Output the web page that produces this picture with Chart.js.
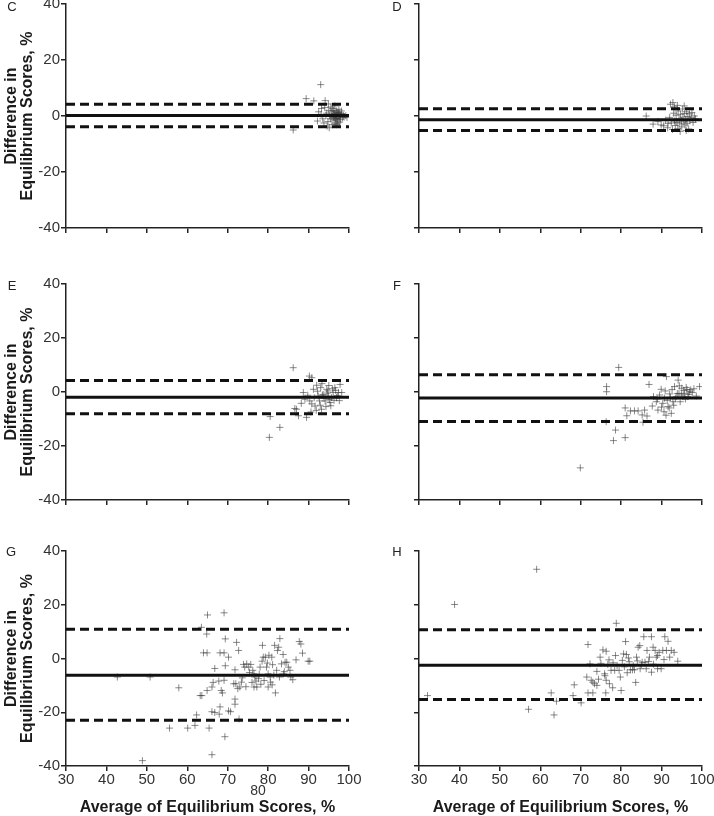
<!DOCTYPE html>
<html>
<head>
<meta charset="utf-8">
<script src="https://cdn.jsdelivr.net/npm/chart.js@4"></script>
<style>
  body { margin: 0; background: #fff; width: 714px; height: 816px; overflow: hidden; position: relative;
         font-family: "Liberation Sans", Arial, sans-serif; }
  canvas { position: absolute; }
  .tag { position: absolute; font-size: 13px; color: #222; line-height: 1; transform: translate(-50%, -50%); }
  .stray { position: absolute; font-size: 14px; color: #333; line-height: 1; transform: translate(-50%, -50%); }
</style>
</head>
<body>
<canvas id="panelC" width="380" height="248" style="left:0;top:-8px"></canvas>
<canvas id="panelD" width="360" height="248" style="left:360px;top:-8px"></canvas>
<canvas id="panelE" width="380" height="240" style="left:0;top:272px"></canvas>
<canvas id="panelF" width="360" height="240" style="left:360px;top:272px"></canvas>
<canvas id="panelG" width="380" height="279" style="left:0;top:539px"></canvas>
<canvas id="panelH" width="360" height="279" style="left:360px;top:539px"></canvas>

<div class="tag" style="left:12px;top:6px">C</div>
<div class="tag" style="left:397px;top:6px">D</div>
<div class="tag" style="left:12px;top:285px">E</div>
<div class="tag" style="left:397px;top:285px">F</div>
<div class="tag" style="left:11px;top:551px">G</div>
<div class="tag" style="left:397px;top:551px">H</div>
<div class="stray" style="left:258px;top:790px">80</div>

<script>
// =====================
// Data (average %, difference %)
// =====================
const xTicks = [30, 40, 50, 60, 70, 80, 90, 100];
const yTicks = [-40, -20, 0, 20, 40];

// [mean, upper limit, lower limit]
const statsC = [0.2, 4.2, -3.8];
const statsD = [-1.3, 2.6, -5.2];
const statsE = [-1.9, 4.3, -8.1];
const statsF = [-2.2, 6.4, -10.9];
const statsG = [-6.2, 10.9, -23.0];
const statsH = [-2.5, 10.7, -15.3];

const pointsC = [
  [93, 11.2], [89.4, 6.2], [91.3, 5.4], [94.1, 5.5], [86.2, -5], [93.2, 2.7], [92.5, 1.5], [93.5, -1],
  [94, 3], [94.5, 1], [94.8, -2], [95, 2], [95.2, 0], [95.4, -1], [95.6, 1.5], [95.8, -3], [96, 0.5],
  [96.1, -0.5], [96.2, 2], [96.3, -1.5], [96.4, 0], [96.5, 1], [96.6, -2.5], [96.7, 0.5], [96.8, -1],
  [96.9, 1.8], [97, 0], [97.1, -0.8], [97.2, 0.8], [97.3, -1.8], [97.4, 0.3], [97.5, 1.2], [97.6, -0.3],
  [97.7, -2.2], [97.8, 0.6], [97.9, -1.2], [98, 0], [98.2, 0.9], [98.4, -0.6], [98.6, 0.2], [98.8, -0.4],
  [99.2, 0.1], [95.5, 3.2], [94.6, -3.6], [95.1, -4.2], [96.5, 3.6], [97.5, 2.4], [94.3, 0.3], [95.9, 2.7],
  [96.9, -3.1], [97.2, -2.8], [98.1, 1.8], [93.8, -2.5], [94.9, 4.3], [99.5, -0.5], [92.2, -1.8], [93.1, 0.6],
  [96.3, 0.8], [96.8, -0.3], [97.1, 1.4], [97.7, 0.2], [96.6, -1.1], [95.7, -0.2]
];
const pointsD = [
  [86.2, 0], [87.9, -2.9], [89.1, -2], [89.9, -3.2], [91.6, -2.6], [92.8, 4.8], [93.2, 3.3], [92.2, 4.2],
  [90.5, -3.5], [91, -1.5], [91.5, -4.2], [92, -0.5], [92.4, -2.5], [92.7, -4.8], [93, 1], [93.2, -1.8],
  [93.4, -3.4], [93.6, 0.3], [93.8, -2.3], [94, -4.5], [94.1, 1.8], [94.3, -1], [94.5, -2.8], [94.7, 0.6],
  [94.9, -1.6], [95, -3.9], [95.2, 2.5], [95.3, -0.4], [95.5, -2.1], [95.7, 0.9], [95.8, -3.2], [96, -1.2],
  [96.2, 1.5], [96.3, -2.6], [96.5, -0.2], [96.7, -4.6], [96.9, 0.8], [97, -1.7], [97.3, -0.6], [97.5, 1.2],
  [97.8, -2.3], [98.1, 0], [98.4, -1], [93.9, 3.8], [95.6, 3.6], [94.6, -5.5], [96.1, -5.2]
];
const pointsE = [
  [80.3, -16.8], [80.5, -9.1], [82.9, -13.1], [86.2, 9], [86.6, -6.1], [87, -6.4], [87.5, -8.8], [88.7, -0.2],
  [89.1, -2.7], [89.5, -9.4], [90.2, 5.9], [90.3, -3.3], [90.8, 5.3], [91.2, 1], [91.6, -5.2], [92, 2.5],
  [92.4, -1.5], [92.7, -3.3], [93, 1.6], [93.2, -6.4], [93.6, -0.9], [94.1, -3.3], [94.5, 1], [94.9, -1.5],
  [95.3, -3.9], [95.7, -2.1], [96.1, -0.2], [96.5, 1.6], [96.9, -2.1], [97.4, -0.2], [97.8, 2.8], [98.2, -0.2],
  [90.8, -4.4], [91.4, -2.1], [91.9, -6.8], [92.2, 0.3], [92.9, -4.9], [93.3, 3.1], [93.8, -2.4], [94.3, -5.4],
  [94.6, -0.4], [95, 2.4], [95.1, -2.8], [95.5, -5.1], [95.9, 1.2], [96.3, -3.1], [96.7, 0.6], [97.1, -1.3],
  [97.6, -3.2], [93.4, -1.2], [94.8, 0.4], [89.8, -1.2], [88.2, -4.2], [90.6, -7.4]
];
const pointsF = [
  [69.9, -28.1], [76.4, 2], [76.4, 0.1], [79.4, 9.1], [76.3, -11], [78.6, -14.1], [78.1, -18], [81, -16.9],
  [81, -5.9], [81.4, -8.8], [82.3, -7], [83.3, -7], [84.2, -7], [85.2, -8.5], [85.8, -6.7], [86.4, -8.9],
  [85.4, -11.2], [86.9, 2.8], [87.7, -5.2], [88, -1.7], [88.7, -3.6], [89.1, -6.7], [89.5, -1.1], [89.9, 1],
  [90.3, -4.2], [90.7, -2.3], [91.2, 5.7], [91.6, -5.4], [92, -0.7], [92.4, -7.9], [92.8, -3.6], [93.2, 2],
  [93.6, -1.7], [94.1, 4.4], [94.3, -0.5], [94.6, -3.6], [95, 1.4], [95.3, -1.7], [95.7, -0.5], [96.1, 1.7],
  [96.5, -1.7], [96.9, 0.1], [98.6, -1.5], [99.4, 2],
  [89, -2.6], [90, -5.6], [90.9, 0.4], [91.4, -3.1], [91.9, -5.9], [92.6, 0.9], [93, -4.9], [93.4, -2.5],
  [93.9, -0.6], [94.4, 2.3], [94.9, -1.1], [95.5, 0.6], [95.9, -2.6], [96.3, 0.9], [96.7, -0.9], [97.2, 0.8],
  [97.6, -0.2], [98, 1.2], [92.2, -2], [90.6, -7.3], [91.1, -8.6]
];
const pointsG = [
  [42.7, -6.9], [50.8, -6.9], [57.9, -10.9], [48.9, -38], [55.6, -25.9], [60.1, -25.9], [61.9, -24.9],
  [62.3, -21], [63.2, -13.8], [63.6, -13.8], [63.5, 11.6], [64.8, 9.1], [65, 16.2], [64, 2.1], [64.9, 2.1],
  [64.9, -11.9], [66.1, -35.8], [65.4, -25.9], [66.1, -10.6], [66.8, -3.7], [66.4, -8.9], [66.1, -19.8],
  [66.8, -20.1], [67.9, -20.7], [68.1, -18], [67.8, -8.4], [68.1, 2.1], [68.4, -11.9], [68.7, -12.8],
  [69.1, 17], [69.4, 7.3], [69.1, 2.1], [69.4, -2.7], [70.2, 0.5], [69.1, -8.1], [69.3, -29.1], [70.2, -19.5],
  [70.7, -19.8], [71.5, -9.4], [71.8, -4.2], [72.2, 6], [72.7, 3], [71.8, -15.1], [71.8, -17], [72, -9.4],
  [72.5, -11.2], [73, -10.6], [73.4, -8.8], [73.6, -7.2], [73.9, -2.2], [74.2, -3.2], [74.7, -2], [75.2, -3.2],
  [75.7, -2.2], [76.2, -4.4], [76.5, -5.7], [76.7, -6.9], [77, -8.4], [77.2, -10.6], [76.5, -10.6], [77.6, -7.5],
  [78, -3.2], [78.5, -1], [78.8, 0.5], [78.6, 4.9], [79.3, 0.5], [79.6, -3.2], [80, -5.7], [80, -10.6],
  [80.5, -6.9], [80.6, -8.8], [80.9, 0.5], [81.1, -2.3], [81.6, 4.9], [81.8, -12.8], [82.1, -4.4], [82.3, 3],
  [82.6, 4.2], [82.9, 7.4], [83.3, -2], [83.8, -5.7], [84.2, -1.4], [84.6, -1.4], [85, -3.2], [85.4, -4.4],
  [85.6, -6.9], [86.1, -7.9], [86.9, -0.5], [87.7, 6.3], [88.1, 5.4], [88.5, 2], [89.9, -1], [90.3, -1],
  [72.8, -22.5], [74.5, -10.5], [75.4, -5.2], [77.8, -5.9], [79, -8.2], [81.4, -6.2], [82.8, -6.9], [84, -4.9],
  [78.2, -9.6], [80.2, 1.2], [79.8, -1.7], [76, -8.9], [83.7, 1.5], [81, -9.8]
];
const pointsH = [
  [32.1, -13.8], [38.8, 20.1], [59.1, 33.2], [57.1, -18.9], [62.7, -12.8], [63.4, -21], [64, -15.9],
  [68.4, -9.8], [68.1, -13.8], [70.1, -16.5], [71.8, 5.2], [71.5, -6.9], [71.8, -12.8], [73, -12.8],
  [72.3, -2], [72.6, -8.1], [73, -8.8], [73.4, -9.4], [74, -10], [74.4, -7.7], [74.8, 0.5], [75.5, 3.2],
  [76.3, 2.7], [76.2, -12.8], [75.9, -5.7], [76.3, -8.1], [76.7, -2.2], [77.1, -9.4], [77.5, -4.4],
  [77.9, -10.9], [78.4, -4.4], [78.8, 13.1], [78.6, 1.1], [79, -2.6], [79.5, -4.4], [80, -11.9], [79.8, -6.9],
  [80.3, -0.7], [80.6, 1.7], [81.1, 6.3], [81.3, 1.5], [81.8, 0.2], [82.3, -4.2], [82.8, -4.2], [83.6, -8.9],
  [83.3, -4.2], [83.8, 0.5], [84.2, 4.2], [84.6, 4.8], [84.7, -3.8], [85.2, -1.4], [85.6, 8.1], [85.9, -1.4],
  [86.2, -3.8], [86.4, 3], [87, 0.5], [87.5, 8.1], [87.5, -5.1], [87.9, 4.2], [88.4, 3], [88.7, 0.5],
  [89, -3.8], [89.4, 2.3], [89.9, -3.8], [90.3, 3], [90.8, 8.1], [91.2, 3], [91.6, 6.4], [92, 0.5],
  [92.4, 3], [93.1, 2.3], [94, -1],
  [75, -1.8], [77, -0.5], [78, -1.6], [80.8, -3.1], [82, -1.2], [83, -2.7], [84, -0.9], [85, -2.3],
  [86.8, -1.1], [88, -2.1], [89, 1.1], [90.6, -0.4], [74, -4.8], [76, -6.4], [81.5, -5.3]
];

const yTitle = ["Difference in", "Equilibrium Scores, %"];
const xTitle = "Average of Equilibrium Scores, %";

// =====================
// Panel builder
// =====================
Chart.defaults.font.family = "'Liberation Sans', Arial, sans-serif";

function limitLine(y, dash) {
  return {
    data: [{ x: xTicks[0], y: y }, { x: xTicks[xTicks.length - 1], y: y }],
    showLine: true,
    borderColor: "#111",
    borderWidth: 3,
    borderDash: dash,
    pointRadius: 0,
    pointHoverRadius: 0
  };
}

function makePanel(id, points, stats, cfg) {
  const [mean, upper, lower] = stats;
  new Chart(document.getElementById(id), {
    type: "scatter",
    data: {
      datasets: [
        limitLine(mean, []),
        limitLine(upper, [9, 5]),
        limitLine(lower, [9, 5]),
        {
          data: points.map(p => ({ x: p[0], y: p[1] })),
          pointStyle: "cross",
          pointRadius: 3.5,
          pointHoverRadius: 3.5,
          borderWidth: 1,
          borderColor: "rgba(60,60,60,0.6)"
        }
      ]
    },
    options: {
      responsive: false,
      animation: false,
      devicePixelRatio: 1,
      layout: { padding: { left: 0, top: 12, right: cfg.padRight, bottom: 0 } },
      plugins: { legend: { display: false }, tooltip: { enabled: false } },
      scales: {
        x: {
          type: "linear",
          min: xTicks[0],
          max: xTicks[xTicks.length - 1],
          ticks: { stepSize: 10, display: cfg.xLabels, padding: 0, color: "#333", font: { size: 15 } },
          grid: { drawOnChartArea: false, drawTicks: true, tickLength: 5, color: "#222", lineWidth: 1.5 },
          border: { color: "#222", width: 1.5 },
          title: {
            display: cfg.xLabels,
            text: xTitle,
            color: "#1a1a1a",
            font: { size: 16, weight: "bold" },
            padding: { top: 0, bottom: 1 }
          },
          afterFit: s => { s.height = cfg.xHeight; }
        },
        y: {
          type: "linear",
          min: yTicks[0],
          max: yTicks[yTicks.length - 1],
          ticks: { stepSize: 20, display: cfg.yLabels, padding: 1, color: "#333", font: { size: 15 } },
          grid: { drawOnChartArea: false, drawTicks: true, tickLength: 5, color: "#222", lineWidth: 1.5 },
          border: { color: "#222", width: 1.5 },
          title: {
            display: cfg.yLabels,
            text: yTitle,
            color: "#1a1a1a",
            font: { size: 16, weight: "bold", lineHeight: 1.03 },
            padding: { top: 3, bottom: 0 }
          },
          afterFit: s => { s.width = cfg.yWidth; }
        }
      }
    }
  });
}

const leftTop = { padRight: 31, yWidth: 66, xHeight: 12, xLabels: false, yLabels: true };
const rightTop = { padRight: 18, yWidth: 59, xHeight: 12, xLabels: false, yLabels: false };
const leftBottom = { padRight: 31, yWidth: 66, xHeight: 52, xLabels: true, yLabels: true };
const rightBottom = { padRight: 18, yWidth: 59, xHeight: 52, xLabels: true, yLabels: false };

makePanel("panelC", pointsC, statsC, leftTop);
makePanel("panelD", pointsD, statsD, rightTop);
makePanel("panelE", pointsE, statsE, leftTop);
makePanel("panelF", pointsF, statsF, rightTop);
makePanel("panelG", pointsG, statsG, leftBottom);
makePanel("panelH", pointsH, statsH, rightBottom);
</script>
</body>
</html>
